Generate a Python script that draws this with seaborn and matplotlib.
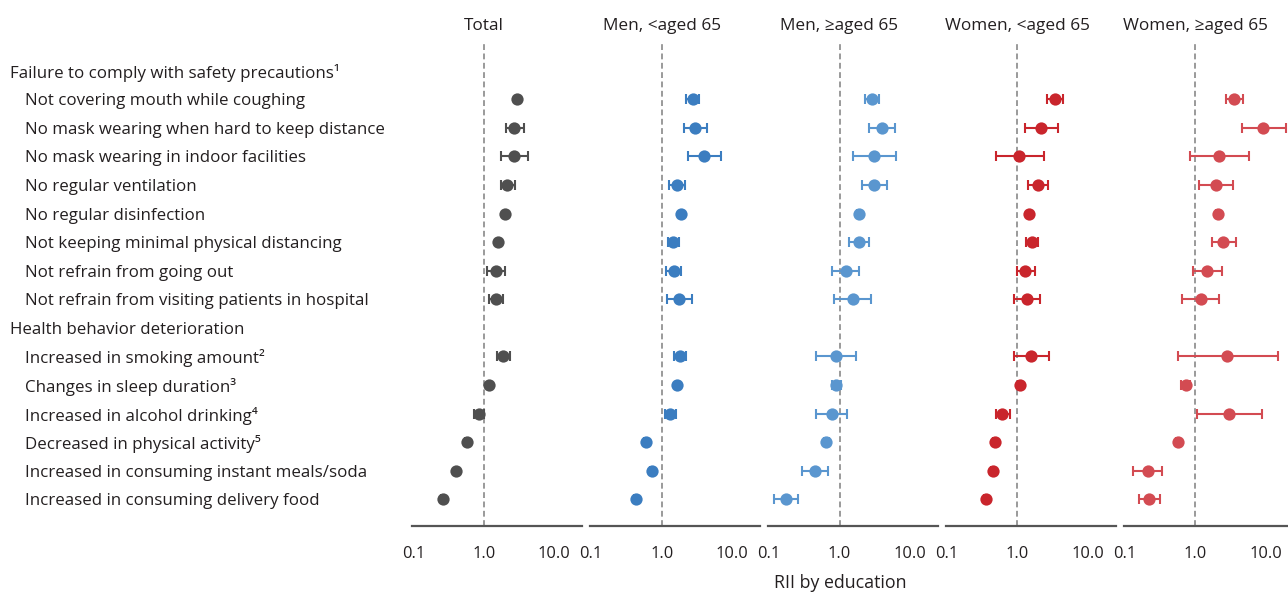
import matplotlib
matplotlib.use("Agg")
import matplotlib.pyplot as plt
import matplotlib.transforms as mtransforms
from matplotlib.ticker import NullLocator
import pandas as pd
import seaborn as sns

sns.set_theme(style="white")
plt.rcParams['font.family'] = ['Open Sans', 'DejaVu Sans']

# --- rows (header rows have no estimate) ---
items = ['Failure to comply with safety precautions¹',
         'Not covering mouth while coughing',
         'No mask wearing when hard to keep distance',
         'No mask wearing in indoor facilities',
         'No regular ventilation',
         'No regular disinfection',
         'Not keeping minimal physical distancing',
         'Not refrain from going out',
         'Not refrain from visiting patients in hospital',
         'Health behavior deterioration',
         'Increased in smoking amount²',
         'Changes in sleep duration³',
         'Increased in alcohol drinking⁴',
         'Decreased in physical activity⁵',
         'Increased in consuming instant meals/soda',
         'Increased in consuming delivery food']
is_header = [True] + [False] * 8 + [True] + [False] * 6

panels = ['Total', 'Men, <aged 65', 'Men, ≥aged 65', 'Women, <aged 65', 'Women, ≥aged 65']
colors = ['#4f4f4f', '#3b7dc0', '#5a96cf', '#c9252c', '#d34b52']

# --- RII estimates and 95% CI ---
total_rii = [None, 3.00, 2.73, 2.73, 2.17, 2.03, 1.60, 1.50, 1.48, None, 1.90, 1.20, 0.85, 0.57, 0.41, 0.26]
total_lo = [None, 2.85, 2.07, 1.78, 1.74, 1.94, 1.52, 1.11, 1.20, None, 1.55, 1.14, 0.72, 0.545, 0.39, 0.248]
total_hi = [None, 3.15, 3.70, 4.22, 2.76, 2.12, 1.68, 2.03, 1.86, None, 2.39, 1.26, 1.00, 0.595, 0.43, 0.272]

men_lt65_rii = [None, 2.77, 2.98, 4.05, 1.64, 1.90, 1.46, 1.48, 1.76, None, 1.82, 1.67, 1.31, 0.60, 0.73, 0.43]
men_lt65_lo = [None, 2.24, 2.08, 2.37, 1.26, 1.80, 1.22, 1.14, 1.18, None, 1.51, 1.58, 1.11, 0.57, 0.69, 0.41]
men_lt65_hi = [None, 3.40, 4.42, 7.00, 2.17, 2.00, 1.75, 1.90, 2.70, None, 2.24, 1.76, 1.58, 0.63, 0.77, 0.45]

men_ge65_rii = [None, 2.92, 3.96, 3.12, 3.08, 1.88, 1.88, 1.22, 1.55, None, 0.88, 0.90, 0.77, 0.65, 0.45, 0.174]
men_ge65_lo = [None, 2.34, 2.59, 1.55, 2.08, 1.76, 1.37, 0.78, 0.84, None, 0.46, 0.77, 0.47, 0.61, 0.29, 0.119]
men_ge65_hi = [None, 3.59, 6.12, 6.32, 4.66, 2.00, 2.61, 1.88, 2.82, None, 1.72, 1.05, 1.28, 0.70, 0.68, 0.26]

women_lt65_rii = [None, 3.43, 2.19, 1.07, 1.94, 1.48, 1.60, 1.30, 1.36, None, 1.56, 1.10, 0.60, 0.48, 0.45, 0.36]
women_lt65_lo = [None, 2.64, 1.27, 0.50, 1.42, 1.40, 1.33, 0.98, 0.88, None, 0.88, 1.03, 0.49, 0.45, 0.42, 0.34]
women_lt65_hi = [None, 4.49, 3.78, 2.36, 2.69, 1.57, 1.97, 1.78, 2.07, None, 2.82, 1.17, 0.78, 0.51, 0.48, 0.38]

women_ge65_rii = [None, 3.59, 9.27, 2.19, 1.94, 2.10, 2.50, 1.47, 1.19, None, 2.85, 0.73, 3.01, 0.57, 0.21, 0.22]
women_ge65_lo = [None, 2.73, 4.56, 0.84, 1.14, 1.97, 1.71, 0.92, 0.64, None, 0.56, 0.63, 1.04, 0.53, 0.13, 0.156]
women_ge65_hi = [None, 4.77, 19.5, 5.73, 3.44, 2.24, 3.74, 2.40, 2.19, None, 14.8, 0.84, 8.77, 0.61, 0.34, 0.32]

series = [(total_rii, total_lo, total_hi),
          (men_lt65_rii, men_lt65_lo, men_lt65_hi),
          (men_ge65_rii, men_ge65_lo, men_ge65_hi),
          (women_lt65_rii, women_lt65_lo, women_lt65_hi),
          (women_ge65_rii, women_ge65_lo, women_ge65_hi)]

frames = []
for name, (rii, lo, hi) in zip(panels, series):
    frames.append(pd.DataFrame({'panel': name, 'row': range(len(items)),
                                'rii': rii, 'lo': lo, 'hi': hi}))
df = pd.concat(frames).dropna()

# --- figure layout (pixels -> fractions) ---
W, H = 1288, 593
fig = plt.figure(figsize=(W / 100, H / 100), dpi=100)
ax_bottom, ax_top = 525.7, 42
xmin, xmax = 0.097, 25
axes = []
for i, (name, col) in enumerate(zip(panels, colors)):
    left = 412.4 + 177.9 * i
    ax = fig.add_axes([left / W, 1 - ax_bottom / H, 169.7 / W, (ax_bottom - ax_top) / H])
    ax.set_xscale('log')
    sub = df[df['panel'] == name]
    ax.axvline(1, color='#9a9a9a', lw=1.4, ls=(0, (3, 1.8)), zorder=1)
    ax.errorbar(sub['rii'], sub['row'],
                xerr=[sub['rii'] - sub['lo'], sub['hi'] - sub['rii']],
                fmt='none', ecolor=col, elinewidth=1.5, capsize=3.5, capthick=1.5, zorder=2)
    sns.scatterplot(data=sub, x='rii', y='row', ax=ax, color=col, s=78,
                    linewidth=0, zorder=3, legend=False)
    ax.set_xlim(xmin, xmax)
    ax.set_ylim(15.92, -1.0)
    ax.set_xticks([0.1, 1, 10])
    ax.set_xticklabels(['0.1', '1.0', '10.0'])
    ax.xaxis.set_minor_locator(NullLocator())
    ax.set_yticks([])
    ax.set_xlabel('')
    ax.set_ylabel('')
    for s in ['top', 'right', 'left']:
        ax.spines[s].set_visible(False)
    ax.spines['bottom'].set_color('#555555')
    ax.spines['bottom'].set_linewidth(1.6)
    ax.tick_params(axis='x', direction='inout', length=7, width=1.4, color='#555555',
                   pad=11, labelsize=11.8, labelcolor='#231f20')
    ax.patch.set_alpha(0)
    tr = mtransforms.blended_transform_factory(ax.transData, ax.transAxes)
    ax.text(1, 1 + 18 / (ax_bottom - ax_top), name, transform=tr, ha='center',
            va='center_baseline', fontsize=12.4, color='#231f20')
    axes.append(ax)

# row labels
tr0 = mtransforms.blended_transform_factory(fig.transFigure, axes[0].transData)
for i, (lab, hdr) in enumerate(zip(items, is_header)):
    x = (10 if hdr else 25) / W
    fig.text(x, i, lab, transform=tr0, ha='left', va='center_baseline', fontsize=12.2,
             color='#231f20')

fig.text(840 / W, 1 - 583 / H, 'RII by education', ha='center', va='center',
         fontsize=12.8, color='#231f20')

fig.savefig('out.png', dpi=100)
